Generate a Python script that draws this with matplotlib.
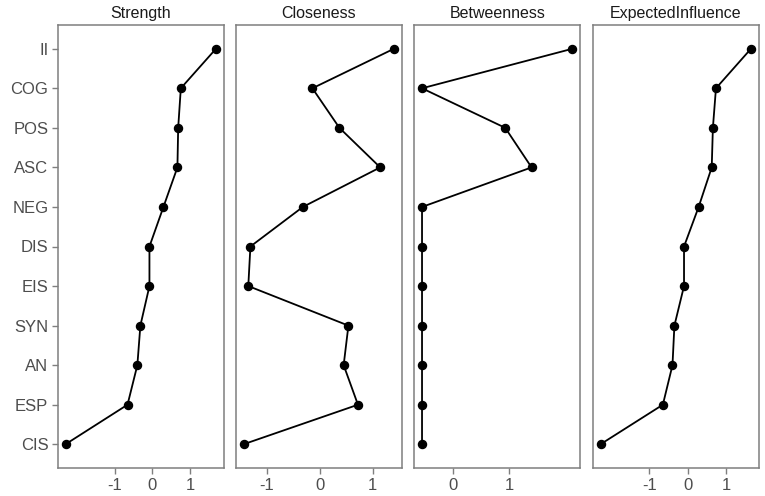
import matplotlib
matplotlib.use("Agg")
import matplotlib.pyplot as plt
import numpy as np

plt.rcParams["font.family"] = ["Liberation Sans", "DejaVu Sans"]

nodes = ["II", "COG", "POS", "ASC", "NEG", "DIS", "EIS", "SYN", "AN", "ESP", "CIS"]
measures = ["Strength", "Closeness", "Betweenness", "ExpectedInfluence"]

strength = [1.68, 0.75, 0.68, 0.66, 0.29, -0.08, -0.08, -0.32, -0.40, -0.66, -2.30]
closeness = [1.40, -0.14, 0.37, 1.14, -0.32, -1.31, -1.35, 0.54, 0.45, 0.72, -1.44]
betweenness = [2.13, -0.555, 0.93, 1.40, -0.555, -0.555, -0.555, -0.555, -0.555, -0.555, -0.555]
expected_influence = [1.64, 0.73, 0.65, 0.62, 0.28, -0.10, -0.10, -0.35, -0.40, -0.65, -2.27]
values = [strength, closeness, betweenness, expected_influence]

x_breaks = [-1, 0, 1]

W, H = 765, 496
fig = plt.figure(figsize=(W / 100, H / 100), dpi=100)

lefts = [58, 236, 414.5, 593]
pw = 165.5
top, bottom = 25, 468

border = "#7f7f7f"
ypos = np.arange(len(nodes))[::-1]

for i, (name, vals) in enumerate(zip(measures, values)):
    ax = fig.add_axes([lefts[i] / W, 1 - bottom / H, pw / W, (bottom - top) / H])
    vals = np.array(vals)
    ax.plot(vals, ypos, color="black", lw=1.3, marker="o", ms=5.8, zorder=3)
    lo, hi = vals.min(), vals.max()
    pad = 0.05 * (hi - lo)
    ax.set_xlim(lo - pad, hi + pad)
    ax.set_ylim(-0.6, len(nodes) - 1 + 0.6)
    shown = [b for b in x_breaks if lo - pad <= b <= hi + pad]
    ax.set_xticks(shown)
    ax.set_xticklabels([str(b) for b in shown])
    ax.set_yticks(ypos)
    if i == 0:
        ax.set_yticklabels(nodes)
        ax.tick_params(axis="y", length=4, width=1.0, color=border,
                       labelsize=12, labelcolor="#4d4d4d", pad=3)
    else:
        ax.set_yticklabels([])
        ax.tick_params(axis="y", length=0)
    ax.tick_params(axis="x", length=4, width=1.0, color=border,
                   labelsize=12, labelcolor="#4d4d4d", pad=3)
    for s in ax.spines.values():
        s.set_color(border)
        s.set_linewidth(1.1)
    ax.set_title(name, fontsize=11.5, color="#1a1a1a", pad=5)

fig.savefig("out.png", dpi=100)
